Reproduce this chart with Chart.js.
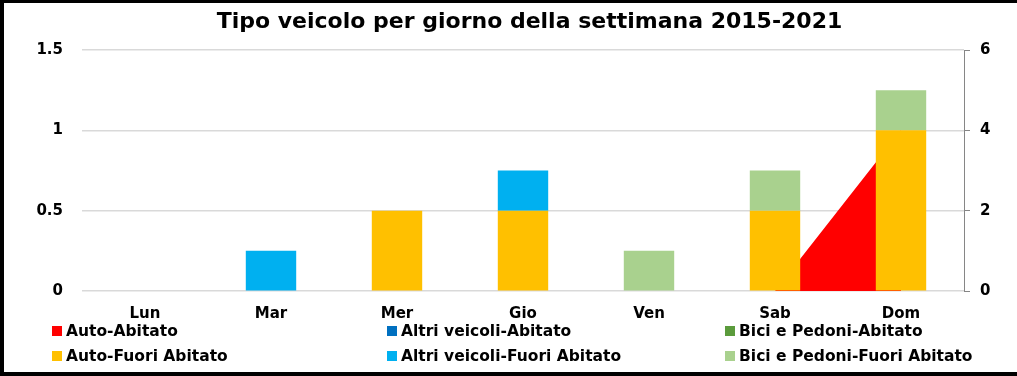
<!DOCTYPE html>
<html>
<head>
<meta charset="utf-8">
<script src="https://cdn.jsdelivr.net/npm/chart.js@4.4.1/dist/chart.umd.min.js"></script>
<style>
  html, body { margin: 0; padding: 0; background: #fff; overflow: hidden; }
  #frame {
    position: relative; width: 1017px; height: 376px;
    font-family: "DejaVu Sans", sans-serif; font-weight: bold; color: #000;
    overflow: hidden;
  }
  #chart { position: absolute; left: 0; top: 0; }
  .edge { position: absolute; background: #000; }
  #title { position: absolute; top: 8px; left: 42px; width: 975px; text-align: center; font-size: 22px; }
  .leg { position: absolute; font-size: 15.5px; line-height: 18px; white-space: nowrap; }
  .leg span { display: inline-block; width: 10px; height: 10px; margin-right: 4px; vertical-align: 0px; }
</style>
</head>
<body>
<div id="frame">
  <canvas id="chart" width="1017" height="376"></canvas>
  <div class="edge" style="left:0;top:0;width:1017px;height:3px"></div>
  <div class="edge" style="left:0;top:0;width:4px;height:376px"></div>
  <div class="edge" style="left:0;top:372px;width:1017px;height:4px"></div>
  <div id="title">Tipo veicolo per giorno della settimana 2015-2021</div>
  <div id="legend"></div>
</div>
<script>
// categories and values (right axis for bars, left axis for the area)
const days = ['Lun', 'Mar', 'Mer', 'Gio', 'Ven', 'Sab', 'Dom'];
const autoAbitato = [0, 0, 0, 0, 0, 0, 1];
const altriAbitato = [0, 0, 0, 0, 0, 0, 0];
const biciAbitato = [0, 0, 0, 0, 0, 0, 0];
const autoFuori = [0, 0, 2, 2, 0, 2, 4];
const altriFuori = [0, 1, 0, 1, 0, 0, 0];
const biciFuori = [0, 0, 0, 0, 1, 1, 1];
const leftTicks = [0, 0.5, 1, 1.5];
const rightTicks = [0, 2, 4, 6];

const seriesNames = ['Auto-Abitato', 'Altri veicoli-Abitato', 'Bici e Pedoni-Abitato',
  'Auto-Fuori Abitato', 'Altri veicoli-Fuori Abitato', 'Bici e Pedoni-Fuori Abitato'];
const seriesColors = ['#FF0000', '#0070C0', '#5B9B3C', '#FFC000', '#00B0F0', '#A9D18E'];

const tickFont = { family: 'DejaVu Sans', weight: 'bold', size: 15 };

function bar(i, data) {
  return {
    type: 'bar', label: seriesNames[i], data: data, yAxisID: 'y1',
    backgroundColor: seriesColors[i], borderWidth: 0,
    barPercentage: 1, categoryPercentage: 0.4, order: 1
  };
}

const ctx = document.getElementById('chart').getContext('2d');
new Chart(ctx, {
  data: {
    labels: days,
    datasets: [
      {
        type: 'line', label: seriesNames[0], data: autoAbitato, yAxisID: 'y',
        borderWidth: 0, pointRadius: 0, fill: 'origin',
        backgroundColor: seriesColors[0], borderColor: seriesColors[0], order: 2
      },
      bar(1, altriAbitato),
      bar(2, biciAbitato),
      bar(3, autoFuori),
      bar(4, altriFuori),
      bar(5, biciFuori)
    ]
  },
  options: {
    responsive: false,
    animation: false,
    layout: { padding: { top: 50, left: 0, right: 0, bottom: 0 } },
    plugins: { legend: { display: false }, title: { display: false }, tooltip: { enabled: false } },
    scales: {
      x: {
        stacked: true,
        grid: { display: false },
        border: { display: false },
        ticks: { color: '#000', font: tickFont, padding: 6 },
        afterFit: s => { s.height = 85; }
      },
      y: {
        position: 'left', min: 0, max: 1.5,
        afterBuildTicks: s => { s.ticks = leftTicks.map(v => ({ value: v })); },
        grid: { color: '#D9D9D9', lineWidth: 1.5, drawTicks: false },
        border: { display: false },
        ticks: { color: '#000', font: tickFont, padding: 19, callback: v => String(v) },
        afterFit: s => { s.width = 82; }
      },
      y1: {
        position: 'right', stacked: true, min: 0, max: 6,
        afterBuildTicks: s => { s.ticks = rightTicks.map(v => ({ value: v })); },
        grid: { drawOnChartArea: false, color: '#868686', tickLength: 6 },
        border: { display: true, color: '#868686', width: 1 },
        ticks: { color: '#000', font: tickFont, padding: 10, callback: v => String(v) },
        afterFit: s => { s.width = 53; }
      }
    }
  }
});

// legend laid out in three fixed columns, two rows
const legend = document.getElementById('legend');
const colX = [52, 387, 725];
const rowY = [322, 347];
seriesNames.forEach((name, i) => {
  const d = document.createElement('div');
  d.className = 'leg';
  d.style.left = colX[i % 3] + 'px';
  d.style.top = rowY[Math.floor(i / 3)] + 'px';
  d.innerHTML = '<span style="background:' + seriesColors[i] + '"></span>' + name;
  legend.appendChild(d);
});
</script>
</body>
</html>
